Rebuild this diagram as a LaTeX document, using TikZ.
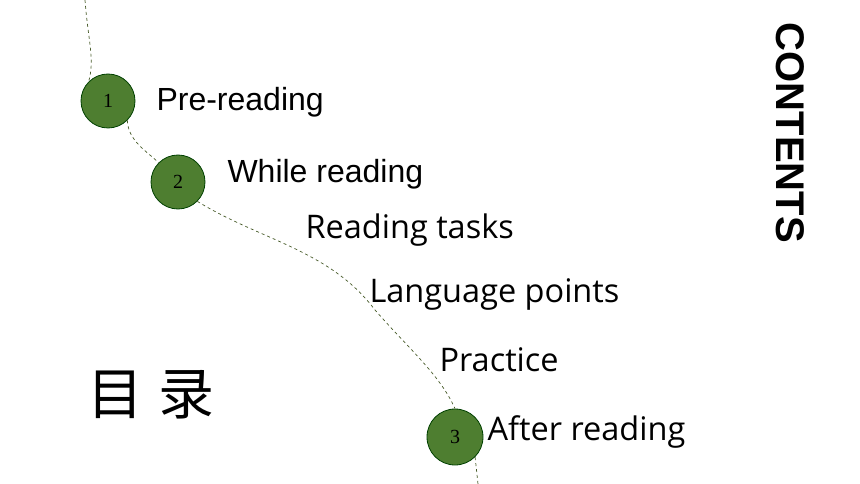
\documentclass[tikz,border=0pt]{standalone}
\usepackage{fontspec}
\setmainfont{Liberation Sans}
\newfontfamily\osans{Open Sans}
\newfontfamily\cjk{Noto Sans CJK SC}
\newfontfamily\serifnum{Liberation Serif}
\begin{document}
\begin{tikzpicture}[x=1pt,y=-1pt,
  num/.style={circle,draw=green!25!black,line width=0.8pt,fill={rgb,255:red,78;green,126;blue,48},minimum size=54pt,inner sep=0pt,font=\serifnum\fontsize{20}{20}\selectfont},
  path/.style={dashed,draw={rgb,255:red,70;green,90;blue,40},line width=0.7pt},
  itemA/.style={anchor=west,font=\fontsize{32}{32}\selectfont},
  itemB/.style={anchor=west,font=\osans\fontsize{32.5}{32}\selectfont}]
\useasboundingbox (0,0) rectangle (860,484);
\node[num] (c1) at (108,101) {1};
\node[num] (c2) at (178,182) {2};
\node[num,minimum size=56pt] (c3) at (455,437) {3};
\coordinate (top) at (85,0);
\coordinate (bot) at (478,484);
\draw[path] (top) .. controls (88,40) and (95,60) .. (c1.north west);
\draw[path] (c1.south east) .. controls (128,140) and (145,150) .. (c2.north west);
\draw[path] (c2.south east) .. controls (260,240) and (330,250) .. (375,310) .. controls (410,350) and (440,375) .. (c3.north);
\draw[path] (c3.south east) .. controls (476,465) and (477,475) .. (bot);
\node[itemA] (t1) at (153,102) {Pre-reading};
\node[itemA] (t2) at (224,174) {While reading};
\node[itemB] (t3) at (302,230) {Reading tasks};
\node[itemB] (t4) at (366,294) {Language points};
\node[itemB] (t5) at (436,360) {Practice};
\node[itemB] (t6) at (484,432) {After reading};
\node[rotate=-90,font=\bfseries\fontsize{40}{40}\selectfont] (ct) at (790,133) {CONTENTS};
\node[font=\cjk\fontsize{56}{56}\selectfont] (ml) at (151,395) {目\hspace{16pt}录};
\end{tikzpicture}
\end{document}
